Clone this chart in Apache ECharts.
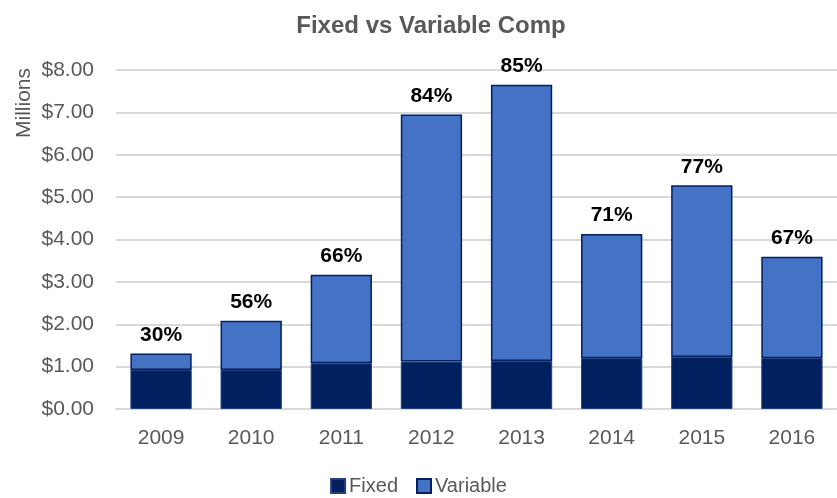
<!DOCTYPE html>
<html lang="en">
<head>
    <meta charset="UTF-8">
    <title>Fixed vs Variable Comp</title>
    <script src="https://cdn.jsdelivr.net/npm/echarts@6/dist/echarts.min.js"></script>
    <style>
        html, body {margin: 0; padding: 0; background: #fff;}
        #chart {width: 837px; height: 498px;}
    </style>
</head>
<body>
<div id="chart"></div>
<script>
    // values in $ millions
    var years = ['2009', '2010', '2011', '2012', '2013', '2014', '2015', '2016']
    var fixedComp = [0.92, 0.92, 1.08, 1.12, 1.13, 1.20, 1.23, 1.20]
    var variableComp = [0.39, 1.16, 2.09, 5.83, 6.52, 2.93, 4.05, 2.39]
    // share of variable pay, as printed above each bar
    var variableShare = ['30%', '56%', '66%', '84%', '85%', '71%', '77%', '67%']

    var font = "'Liberation Sans', Arial, sans-serif"
    var grey = '#595959'

    var myChart = echarts.init(document.getElementById('chart'))

    var option = {
        animation: false,
        title: {
            text: 'Fixed vs Variable Comp',
            left: 426,
            textAlign: 'center',
            top: 9,
            textStyle: {fontFamily: font, fontSize: 24, fontWeight: 'bold', color: grey}
        },
        graphic: [{
            type: 'text',
            left: 14,
            top: 68,
            rotation: Math.PI / 2,
            style: {text: 'Millions', font: '21px ' + font, fill: grey}
        }],
        legend: {
            bottom: -3,
            left: 'center',
            itemWidth: 14,
            itemHeight: 14,
            itemGap: 18,
            icon: 'rect',
            textStyle: {fontFamily: font, fontSize: 20, color: grey, padding: [0, 0, 0, -1]},
            data: ['Fixed', 'Variable']
        },
        grid: {
            left: 116,
            top: 70,
            width: 730,
            height: 339
        },
        xAxis: {
            type: 'category',
            data: years,
            axisLine: {lineStyle: {color: '#D9D9D9', width: 2}},
            axisTick: {show: false},
            axisLabel: {fontFamily: font, fontSize: 21, color: grey, margin: 19}
        },
        yAxis: {
            type: 'value',
            min: 0,
            max: 8,
            interval: 1,
            axisLine: {show: false},
            axisTick: {show: false},
            splitLine: {lineStyle: {color: '#D9D9D9', width: 2}},
            axisLabel: {
                fontFamily: font, fontSize: 21, color: grey, margin: 22,
                formatter: function (v) { return '$' + v.toFixed(2) }
            }
        },
        series: [
            {
                name: 'Fixed',
                type: 'bar',
                stack: 'comp',
                barWidth: '68%',
                data: fixedComp,
                itemStyle: {color: '#002060', borderColor: '#24407A', borderWidth: 1}
            },
            {
                name: 'Variable',
                type: 'bar',
                stack: 'comp',
                data: variableComp,
                itemStyle: {color: '#4472C4', borderColor: '#002060', borderWidth: 1.5},
                label: {
                    show: true,
                    position: 'top',
                    distance: 8,
                    fontFamily: font,
                    fontSize: 21,
                    fontWeight: 'bold',
                    color: '#000',
                    formatter: function (p) { return variableShare[p.dataIndex] }
                }
            }
        ]
    }

    myChart.setOption(option)
</script>
</body>
</html>
